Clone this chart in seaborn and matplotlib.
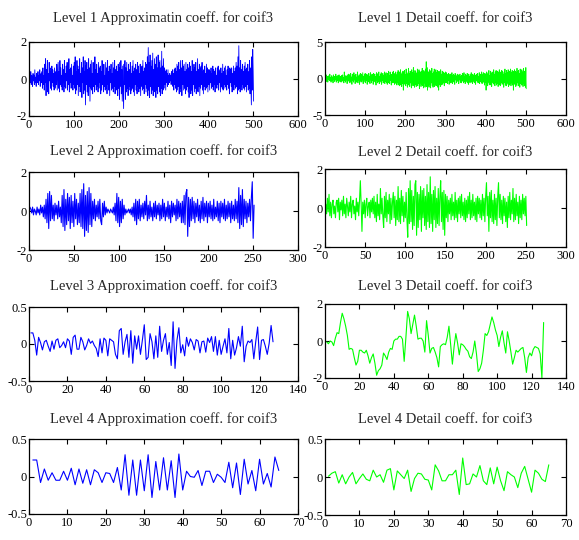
import numpy as np
import pandas as pd
import matplotlib
matplotlib.use("Agg")
import matplotlib.pyplot as plt
import seaborn as sns

# ---------------- data ----------------
l1_approx = [
 0.3,0.1,-0.2,0.4,-0.3,0.2,0.0,-0.4,0.3,-0.1,
 0.2,-0.3,0.5,-0.2,0.1,-0.4,0.3,0.0,-0.2,0.4,
 -0.3,0.2,-0.1,0.5,-0.4,0.1,0.3,-0.2,0.4,-0.5,
 0.6,-0.3,0.2,-0.6,0.8,-0.2,1.1,-0.9,0.5,-0.4,
 1.0,-0.7,0.3,-0.8,0.9,-0.1,0.6,-0.5,0.4,-0.6,
 0.7,-0.2,0.5,-0.4,0.3,-0.6,0.6,0.1,-0.5,0.4,
 -0.3,0.8,-0.6,0.2,0.9,-0.5,0.4,-0.7,1.0,-0.3,
 0.6,-0.4,0.2,-0.6,0.8,-0.2,0.5,-0.7,1.0,-0.4,
 0.3,-0.5,0.7,-0.1,0.9,-0.6,0.4,-0.3,1.1,-0.7,
 0.5,-0.2,0.6,-0.5,0.8,-0.4,0.2,-0.6,0.7,-0.3,
 0.9,-0.5,1.2,-0.8,0.4,-0.6,1.0,-0.3,0.7,-0.9,
 0.5,-0.4,1.1,-0.7,0.3,-0.5,0.9,-1.0,0.6,-0.2,
 1.2,-0.8,0.4,-0.6,1.0,-1.4,0.7,-0.3,0.9,-0.7,
 0.5,-0.9,1.1,-0.4,0.6,-1.2,0.8,-0.5,1.0,-0.6,
 0.3,-0.8,0.9,-0.4,0.6,-0.7,1.2,-0.3,0.5,-0.6,
 0.8,-0.4,0.3,-0.7,0.9,-0.5,0.6,-0.2,0.7,-0.8,
 0.4,-0.6,1.0,-0.3,0.5,-0.7,0.8,-0.4,0.2,-0.6,
 0.9,-0.5,0.6,-0.8,1.0,-0.3,0.4,-0.6,0.7,-0.9,
 0.5,-0.2,0.8,-0.6,0.3,-0.5,0.9,-0.7,0.6,-0.4,
 1.0,-0.8,0.5,-0.3,0.7,-0.6,0.4,-0.9,0.8,-0.5,
 0.6,-1.1,0.9,-0.4,1.0,-0.8,0.5,-1.2,0.7,-0.6,
 -1.6,0.8,-0.3,1.0,-1.1,0.6,-0.7,0.9,-0.5,0.4,
 -0.9,0.8,-0.6,0.5,-0.4,0.9,-0.8,0.3,-0.6,0.7,
 -0.5,1.0,-0.7,0.4,-0.9,0.6,-0.3,0.8,-0.6,0.5,
 -0.8,0.9,-0.4,0.7,-0.7,0.3,-0.5,0.8,-0.9,0.6,
 -0.4,0.7,-0.6,1.0,-0.5,0.4,-0.8,0.6,-0.3,0.9,
 -0.7,0.8,-0.5,1.2,-0.9,1.7,-0.6,0.9,-1.0,1.3,
 -0.4,0.7,-0.8,1.0,-0.6,1.4,-0.9,0.5,-0.7,1.1,
 -0.5,0.8,-1.0,1.2,-0.6,0.6,-0.8,1.3,-0.4,0.9,
 -0.7,1.0,-0.9,0.6,-0.5,1.5,-0.8,0.7,-0.6,1.1,
 -0.5,0.6,-0.3,0.4,-0.6,0.5,-0.2,0.3,-0.4,0.5,
 -0.3,0.2,-0.2,0.3,-0.1,0.2,-0.3,0.4,-0.2,0.5,
 -0.4,0.3,-0.6,0.5,-0.3,0.6,-0.5,0.4,-0.7,0.8,
 -0.6,0.7,-0.4,0.9,-0.8,0.5,-0.5,1.0,-0.7,0.6,
 -0.9,1.0,-0.3,0.7,-0.6,0.8,-0.5,0.4,-0.8,0.9,
 -0.6,0.5,-0.4,0.8,-0.7,0.6,-1.0,0.9,-0.5,0.7,
 -0.8,0.4,-0.6,1.0,-0.9,0.5,-0.3,0.8,-0.7,0.6,
 -0.5,0.9,-0.8,0.4,-0.6,1.1,-0.7,0.5,-0.4,0.8,
 -0.9,0.6,-0.5,0.7,-0.3,0.9,-0.6,0.4,-0.8,0.5,
 -0.4,0.7,-0.6,0.3,-0.5,0.8,-0.4,0.6,-0.7,0.5,
 -0.3,0.5,-0.6,0.4,-0.2,0.6,-0.5,0.3,-0.4,0.7,
 -0.6,0.5,-0.3,0.4,-0.7,0.6,-0.4,0.2,-0.5,0.6,
 -0.3,0.7,-0.6,0.4,-0.2,0.5,-0.7,0.6,-0.4,0.3,
 -0.5,0.8,-0.6,0.4,-0.3,0.6,-0.5,0.7,-0.4,0.2,
 -0.6,0.5,-0.3,0.7,-0.5,0.4,-0.8,0.6,-0.2,0.5,
 -0.4,0.6,-0.7,0.3,-0.5,0.7,-0.6,0.4,-0.3,0.6,
 -0.5,0.9,-0.4,0.7,-0.8,1.2,-0.6,1.8,-0.5,0.6,
 -0.7,1.0,-0.4,0.5,-0.6,0.8,-0.3,0.4,-0.5,0.7,
 -0.6,0.9,-0.4,0.5,-0.7,0.6,-0.3,0.8,-0.6,0.4,
 -0.5,1.0,-0.8,0.6,-0.4,-1.4,1.2,-0.6,1.6,0.4,
 -1.2,
]

l1_detail = [
 0.3,-0.2,0.5,-0.4,0.1,0.3,-0.5,0.2,-0.1,0.4,
 -0.3,0.6,-0.2,0.1,-0.5,0.3,0.4,-0.3,0.2,-0.6,
 0.5,-0.1,0.3,-0.4,0.2,-0.2,0.6,-0.5,0.1,0.3,
 -0.3,0.4,-0.6,0.2,0.5,-0.2,-0.4,0.3,0.1,-0.5,
 0.4,-0.3,0.2,0.5,-0.4,0.1,-0.6,0.9,-0.3,0.2,
 -0.5,0.4,-0.2,0.3,-0.7,0.5,0.1,-0.3,0.6,-0.4,
 0.5,-0.6,0.3,0.7,-0.4,0.2,-0.8,0.6,-0.3,0.5,
 -0.5,0.8,-0.2,0.4,-0.7,0.3,0.6,-0.5,0.2,-0.4,
 0.9,-0.6,0.3,-0.2,0.5,-0.8,0.4,0.7,-0.3,-0.5,
 0.6,-0.4,0.2,0.8,-0.7,0.3,-0.5,0.5,-0.2,0.7,
 -0.6,0.4,-0.3,0.6,-0.8,0.2,0.5,-0.4,0.7,-0.5,
 0.3,-0.7,0.8,-0.2,0.4,-0.6,0.6,-0.3,0.5,-0.8,
 0.7,-0.4,0.2,0.6,-0.5,0.3,-0.9,0.8,-0.3,0.5,
 -0.6,0.7,-0.4,0.9,-0.7,0.3,-0.5,0.6,-0.2,0.8,
 -0.8,0.5,-0.3,0.7,-0.6,0.4,-0.5,0.9,-0.7,0.6,
 -0.4,0.8,-0.6,0.3,-0.8,0.7,-0.5,1.0,-0.6,0.4,
 -0.7,0.9,-0.3,0.6,-0.9,0.5,-0.4,0.8,-0.6,1.0,
 -0.5,0.7,-0.8,0.4,-0.6,0.9,-0.7,0.5,-0.9,0.8,
 -0.6,1.1,-0.8,0.7,-1.0,0.9,-0.5,1.2,-0.9,0.6,
 -1.1,0.8,-0.7,1.0,-1.6,0.9,-0.6,1.1,-0.8,0.5,
 -1.0,1.3,-0.7,0.8,-1.2,0.6,-0.9,1.4,-0.8,0.7,
 -1.1,1.0,-0.6,0.9,-1.3,1.2,-0.7,0.8,-1.0,1.5,
 -0.9,0.6,-1.2,1.1,-0.8,0.9,-1.1,0.7,-0.9,1.3,
 -1.0,0.8,-0.7,1.2,-1.4,0.9,-0.6,0.9,-1.1,1.0,
 -0.8,1.4,-1.0,0.7,-1.3,1.1,-0.6,0.9,-1.2,1.3,
 -0.9,2.3,-1.1,1.5,-1.6,1.0,-1.0,0.8,-1.2,1.2,
 -0.8,0.9,-1.3,1.1,-0.6,1.4,-1.0,0.7,-1.2,0.9,
 -0.8,1.3,-1.1,0.6,-0.9,1.2,-1.0,0.8,-0.7,1.1,
 -1.2,0.9,-1.6,1.0,-0.8,0.7,-1.1,1.2,-0.9,0.6,
 -0.7,1.0,-0.8,0.9,-0.6,0.8,-1.0,0.7,-0.5,0.9,
 -0.6,0.8,-0.5,0.4,-0.7,0.6,-0.3,0.7,-0.8,0.5,
 -0.4,0.6,-0.6,0.3,-0.5,0.8,-0.7,0.4,-0.3,0.6,
 -0.5,0.4,-0.8,0.7,-0.2,0.5,-0.6,0.3,-0.4,0.6,
 -0.3,0.5,-0.7,0.4,-0.2,0.6,-0.5,0.3,-0.6,0.4,
 -0.4,0.7,-0.3,0.5,-0.6,0.8,-0.4,0.3,-0.7,0.6,
 -0.5,0.4,-0.3,0.7,-0.6,0.5,-0.8,0.6,-0.4,0.3,
 -0.6,0.5,-0.4,0.8,-0.5,0.3,-0.7,0.6,-0.3,0.4,
 -0.5,0.7,-0.6,0.4,-0.8,0.5,-0.3,0.6,-0.4,0.7,
 -0.6,0.3,-0.5,0.8,-0.7,0.4,-0.4,0.6,-0.5,0.9,
 -0.7,0.5,-0.6,0.8,-0.4,0.6,-0.9,0.7,-0.5,0.6,
 -1.6,0.9,-0.7,0.6,-1.0,0.8,-0.5,1.1,-0.8,0.4,
 -0.9,1.0,-0.6,0.7,-1.1,0.9,-0.5,0.8,-0.7,1.2,
 -0.8,0.6,-1.0,0.9,-0.6,1.1,-0.9,0.5,-0.7,1.0,
 -1.1,0.8,-0.6,1.2,-0.9,0.7,-1.0,0.9,-0.5,1.1,
 -0.8,1.0,-0.7,0.6,-1.2,0.9,-0.6,1.3,-0.9,0.7,
 -1.0,1.1,-0.8,0.8,-0.6,1.2,-1.1,0.7,-0.9,1.0,
 -0.7,1.3,-1.0,0.8,-0.6,1.1,-0.9,1.0,-1.6,0.9,
 -0.8,1.2,-0.7,1.0,-1.1,0.8,-0.9,1.4,-0.6,0.9,
 -1.0,1.1,-0.8,0.7,-1.2,1.3,-0.7,1.0,-0.9,1.2,
 -0.8,0.9,-1.1,1.4,-0.7,1.0,-1.0,0.8,-1.2,1.5,
 -1.4,
]

l2_approx = [
 0.2,0.1,-0.1,0.2,-0.2,0.1,0.0,-0.2,0.2,-0.1,
 0.1,-0.2,0.3,-0.1,0.2,-0.3,0.3,
 -0.4,0.6,-0.6,0.9,-0.9,1.0,-0.5,0.8,
 -0.4,0.3,-0.5,0.4,-0.2,0.3,-0.4,0.5,-0.3,0.2,
 -0.6,0.8,-0.8,1.1,-1.0,0.6,-0.7,0.9,-0.5,0.7,
 -0.9,0.8,-0.6,0.5,-0.8,0.9,-0.4,0.6,-0.7,0.4,
 -0.6,0.9,-0.8,1.1,-0.9,1.4,-1.3,0.8,-1.0,1.0,
 -1.1,1.2,-0.7,0.9,-0.8,
 0.5,-0.4,0.6,-0.5,0.3,-0.3,0.5,-0.4,0.6,-0.5,
 -0.7,0.4,-0.3,0.5,-0.2,
 0.2,-0.1,0.1,0.0,-0.1,0.1,0.0,-0.1,0.2,-0.2,
 0.4,-0.5,0.9,-0.6,0.7,-0.8,0.5,-0.6,0.6,-0.4,
 0.3,-0.2,0.1,-0.1,0.0,0.1,-0.1,0.1,-0.2,0.2,
 -0.3,0.4,-0.5,0.6,-0.7,0.5,-0.4,0.6,-0.5,0.3,
 -0.3,0.4,-0.4,0.5,-0.2,0.8,-0.5,0.3,-0.4,0.5,
 -0.3,0.2,-0.5,0.4,-0.3,0.5,-0.4,0.3,-0.2,0.4,
 -0.5,0.3,-0.4,0.6,-0.3,0.4,-0.5,0.2,-0.3,0.5,
 -0.4,0.3,-0.6,0.5,-0.3,0.4,-0.2,0.3,-0.5,0.6,
 -0.4,0.5,-0.3,0.4,-0.6,
 0.5,-0.6,0.8,-0.7,0.9,1.1,-1.3,0.7,-0.8,0.6,
 -0.5,0.7,-0.4,0.5,-0.6,0.4,-0.3,0.6,-0.5,0.3,
 -0.6,0.5,-0.4,0.7,-0.5,0.4,-0.3,0.5,-0.6,0.4,
 -0.3,0.5,-0.4,0.3,-0.5,0.6,-0.4,0.2,-0.3,0.5,
 -0.5,0.4,-0.6,0.5,-0.3,0.4,-0.4,0.6,-0.5,0.3,
 -0.4,0.5,-0.3,0.4,-0.6,0.5,-0.4,0.3,-0.5,0.6,
 -0.4,0.5,
 -0.6,1.2,-0.9,0.8,-0.7,1.1,-0.8,0.6,
 -0.4,0.5,-0.6,0.4,-0.3,0.6,-0.5,0.7,1.5,-1.4,0.3,
]

l2_detail = [
 0.2,-0.3,0.5,-0.2,0.7,-0.4,0.3,-0.5,0.2,0.4,
 -0.3,0.1,-0.5,0.3,0.4,-0.2,0.5,-0.6,0.3,-0.1,
 0.4,-0.4,0.6,-0.3,0.2,-0.5,0.5,0.1,-0.4,0.3,
 -0.2,0.6,-0.5,0.2,0.4,-0.3,0.1,-0.6,0.5,-0.2,
 0.3,-0.4,
 0.4,1.4,0.2,-1.2,0.3,
 -0.3,0.4,-0.5,0.2,0.5,-0.4,0.1,0.3,-0.5,0.4,
 -0.2,0.5,-0.3,
 0.6,-0.5,0.3,-0.7,0.7,-0.4,0.2,-0.6,1.0,-0.3,
 0.5,-0.4,-1.0,0.6,-0.5,0.8,-0.7,0.4,-0.3,0.7,
 -0.8,0.5,-0.6,0.3,0.8,-0.5,0.6,-0.9,0.4,-0.6,
 1.1,-0.7,0.5,-0.8,0.9,-0.4,0.6,-0.7,0.3,-0.5,
 0.8,-0.6,-1.5,1.0,-0.8,1.4,-0.7,0.9,-1.1,0.6,
 -0.9,1.2,1.4,-1.4,0.8,-1.0,0.7,-0.6,1.1,-1.2,
 0.9,-0.5,1.0,-0.9,0.6,-1.1,1.2,-0.7,0.8,-1.0,
 1.6,-0.8,0.7,-1.2,0.9,-0.6,1.1,-1.0,0.5,-0.8,
 1.0,-0.9,0.6,1.4,-0.7,0.8,-1.1,0.9,-1.4,0.7,
 -0.5,0.6,-0.7,0.4,-0.3,0.5,-0.6,0.7,-0.4,0.3,
 -0.6,0.8,-0.5,0.4,-0.7,0.5,-0.3,0.6,-0.5,0.7,
 -0.4,0.3,-0.6,0.5,-0.7,0.4,-0.5,0.6,-0.3,0.8,
 -0.6,0.4,-0.5,0.7,-0.4,0.3,-0.6,0.5,-0.7,0.6,
 -0.3,0.5,-0.5,0.4,-0.6,0.7,-0.4,0.5,-0.7,0.6,
 1.3,-0.4,0.6,-1.2,0.8,-0.5,0.9,-0.7,0.4,-0.8,
 0.7,-0.6,0.5,-0.9,0.6,1.3,-0.5,
 0.7,-0.6,0.4,-0.8,0.6,-0.4,0.5,-0.7,0.3,-1.0,
 0.6,-0.5,0.8,-0.6,0.4,-0.3,1.0,-0.7,0.5,-0.6,
 0.7,-0.4,0.3,-0.8,0.6,-0.5,0.4,-0.6,0.7,-0.3,
 0.5,-0.4,0.6,-0.9,
]

l3_approx = [
 0.15,0.15,0.05,-0.15,0.09,0.02,-0.08,0.03,0.05,-0.03,
 -0.10,0.04,-0.07,0.05,0.07,-0.05,-0.02,0.03,-0.05,0.07,
 0.04,-0.14,0.09,0.12,-0.07,-0.07,0.09,0.03,-0.08,-0.02,
 0.07,0.01,0.04,-0.02,-0.06,-0.17,0.07,-0.12,0.08,0.05,
 -0.16,0.07,0.05,0.03,-0.14,-0.20,0.18,0.21,-0.14,0.03,
 0.13,-0.18,0.18,-0.26,0.11,-0.07,0.11,-0.14,0.05,0.26,
 -0.21,-0.18,0.14,0.03,-0.20,0.11,-0.18,0.24,-0.10,0.05,
 0.14,-0.14,0.02,-0.29,0.30,-0.33,0.05,0.22,-0.12,-0.01,
 -0.16,0.09,-0.03,0.07,0.02,-0.08,0.06,0.04,-0.12,0.03,
 0.04,-0.11,0.08,0.02,0.10,-0.10,0.10,-0.15,0.05,-0.14,
 -0.03,0.07,-0.12,0.21,-0.20,0.05,-0.15,-0.05,0.10,-0.03,
 0.24,-0.24,-0.03,0.04,0.02,0.06,-0.20,0.03,0.23,-0.21,
 0.05,0.06,-0.03,-0.14,0.01,0.25,0.03,
]

l3_detail = [
 -0.05,-0.15,0.0,-0.05,-0.25,0.15,0.45,0.4,1.0,1.5,
 1.2,0.8,0.3,-0.45,-0.4,-0.45,-0.9,-1.3,-1.1,-0.5,
 -0.5,-0.6,-0.65,-0.5,-0.8,-1.2,-0.9,-0.7,-1.2,-1.85,
 -1.6,-1.5,-1.3,-0.65,-0.8,-1.0,-0.6,-0.4,-0.45,0.0,
 0.1,0.1,0.25,0.25,0.1,-1.1,0.2,1.6,1.2,0.4,
 0.9,1.4,0.8,0.1,0.15,0.15,0.0,-0.6,1.1,0.3,
 -0.65,-0.4,-0.35,-0.6,-0.9,-1.4,-0.3,-0.2,-0.15,-0.2,
 0.2,0.8,-0.2,-1.25,-0.3,0.4,-0.1,-0.75,-0.15,-0.2,
 -0.3,-0.45,-0.55,-0.85,-0.95,-0.6,0.0,-0.7,-1.65,-1.5,
 -1.2,-0.5,0.4,0.3,0.5,0.9,1.3,1.0,0.6,0.3,
 -0.3,0.2,0.55,-0.1,-0.65,0.5,0.0,-0.6,-1.25,-0.9,
 -0.5,-0.6,-0.5,-0.4,-0.35,-0.9,-1.7,-0.9,-0.65,-0.8,
 -0.45,-0.3,-0.35,-0.4,-0.7,-2.0,1.0,
]

l4_approx = [
 0.22,0.22,-0.08,0.10,-0.05,0.05,-0.05,-0.05,0.07,-0.05,
 0.11,-0.11,0.10,-0.09,0.09,-0.11,0.09,0.05,-0.08,0.05,
 0.04,-0.08,0.12,-0.18,0.29,-0.25,0.22,-0.25,0.22,-0.19,
 0.29,-0.28,0.20,-0.18,0.25,-0.18,0.21,-0.28,0.30,-0.18,
 0.07,0.0,-0.01,0.08,-0.12,0.07,0.07,-0.08,0.03,-0.01,
 -0.08,0.19,-0.15,0.18,-0.24,0.23,-0.10,0.08,-0.19,0.23,
 -0.10,0.04,-0.14,0.26,0.08,
]

l4_detail = [
 0.01,0.05,0.07,-0.08,0.03,-0.09,0.0,0.06,-0.09,-0.02,
 0.04,-0.03,-0.05,0.09,0.0,0.03,-0.07,0.09,0.11,-0.17,
 0.08,0.03,-0.02,0.09,-0.19,-0.02,0.05,0.04,-0.03,-0.04,
 -0.17,0.16,0.08,-0.05,-0.05,0.03,0.03,0.09,-0.23,0.25,
 -0.10,-0.09,0.04,0.0,0.15,-0.05,-0.10,0.12,-0.09,0.13,
 -0.05,-0.18,0.07,0.03,0.0,-0.14,0.05,0.14,-0.03,-0.20,
 0.09,0.05,-0.03,-0.06,0.16,
]

titles = [
    "Level 1 Approximatin coeff. for coif3", "Level 1 Detail coeff. for coif3",
    "Level 2 Approximation coeff. for coif3", "Level 2 Detail coeff. for coif3",
    "Level 3 Approximation coeff. for coif3", "Level 3 Detail coeff. for coif3",
    "Level 4 Approximation coeff. for coif3", "Level 4 Detail coeff. for coif3",
]
series = [l1_approx, l1_detail, l2_approx, l2_detail,
          l3_approx, l3_detail, l4_approx, l4_detail]
xmax = [600, 600, 300, 300, 140, 140, 70, 70]
xstep = [100, 100, 50, 50, 20, 20, 10, 10]
ylims = [2, 5, 2, 2, 0.5, 2, 0.5, 0.5]
ytick_labels = [["-2", "0", "2"], ["-5", "0", "5"], ["-2", "0", "2"], ["-2", "0", "2"],
                ["-0.5", "0", "0.5"], ["-2", "0", "2"], ["-0.5", "0", "0.5"], ["-0.5", "0", "0.5"]]
colors = ["#0000ff", "#00ff00"] * 4

# ---------------- layout (pixel boxes: x0, y0, x1, y1) ----------------
W, H = 579, 540
boxes = [
    (29, 42, 298, 116), (325, 42, 566, 115),
    (29, 172, 298, 250), (325, 169, 566, 247),
    (29, 307, 298, 381), (325, 304, 566, 378),
    (29, 439, 298, 514), (325, 439, 566, 515),
]
title_cy = [17, 17, 150, 151, 285, 285, 418, 418]
line_w = [0.6, 0.6, 0.8, 0.8, 0.8, 0.8, 0.8, 0.8]

sns.set_style("ticks")
plt.rcParams['font.family'] = ['Liberation Serif', 'DejaVu Serif']
plt.rcParams['axes.linewidth'] = 0.9
plt.rcParams['xtick.direction'] = 'in'
plt.rcParams['ytick.direction'] = 'in'

fig = plt.figure(figsize=(W / 100, H / 100), dpi=100)
fig.patch.set_facecolor("white")

for i in range(8):
    x0, y0, x1, y1 = boxes[i]
    ax = fig.add_axes([x0 / W, 1 - y1 / H, (x1 - x0) / W, (y1 - y0) / H])
    vals = series[i]
    df = pd.DataFrame({"n": np.arange(1, len(vals) + 1), "v": vals})
    sns.lineplot(data=df, x="n", y="v", ax=ax, color=colors[i],
                 linewidth=line_w[i], estimator=None, legend=False)
    ax.set_xlim(0, xmax[i])
    ax.set_ylim(-ylims[i], ylims[i])
    ax.set_xticks(np.arange(0, xmax[i] + 1, xstep[i]))
    ax.set_yticks([-ylims[i], 0, ylims[i]])
    ax.set_yticklabels(ytick_labels[i])
    ax.set_xlabel("")
    ax.set_ylabel("")
    ax.tick_params(axis='both', which='both', direction='in', length=3.5,
                   width=0.8, top=True, right=True, labelsize=9, colors='black')
    ax.tick_params(axis='x', pad=2)
    ax.tick_params(axis='y', pad=1.5)
    for s in ax.spines.values():
        s.set_visible(True)
        s.set_color("black")
    pad_px = y0 - (title_cy[i] + 5)
    ax.set_title(titles[i], fontsize=10.5, pad=pad_px * 0.72)

fig.savefig("out.png", dpi=100, facecolor="white")
